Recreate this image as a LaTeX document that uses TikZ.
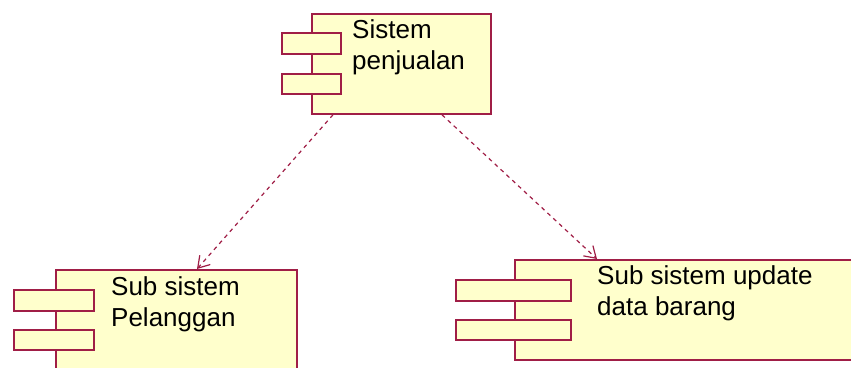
\documentclass[tikz,border=0pt]{standalone}
\usepackage{fontspec}
\setmainfont{Liberation Sans}
\usetikzlibrary{arrows.meta}
\definecolor{umlline}{RGB}{160,30,70}
\definecolor{umlfill}{RGB}{255,255,204}
\tikzset{
  compbody/.style={draw=umlline, fill=umlfill, line width=1.8pt, rectangle, inner sep=0pt, anchor=north west},
  compport/.style={draw=umlline, fill=umlfill, line width=1.8pt, rectangle, inner sep=0pt, anchor=north west},
  complabel/.style={anchor=north west, inner sep=0pt, align=left, font=\fontsize{26}{31.5}\selectfont, text=black},
  dep/.style={draw=umlline, line width=1.2pt, dash pattern=on 4pt off 4pt, -{Straight Barb[length=11pt,width=14pt,line width=1.2pt]}}
}
\begin{document}
\begin{tikzpicture}[x=1pt,y=-1pt]
\clip (0,0) rectangle (851,367);
\fill[white] (0,0) rectangle (851,367);
% top component
\node[compbody, minimum width=179pt, minimum height=100pt] (top) at (311,13) {};
\node[compport, minimum width=59pt, minimum height=21pt] (topp1) at (281,32) {};
\node[compport, minimum width=59pt, minimum height=20pt] (topp2) at (281,73) {};
\node[complabel] (toplabel) at (352,19) {Sistem\\penjualan};
% bottom left component
\node[compbody, minimum width=241pt, minimum height=140pt] (pel) at (55,269) {};
\node[compport, minimum width=80pt, minimum height=21pt] (pelp1) at (13,289) {};
\node[compport, minimum width=80pt, minimum height=20pt] (pelp2) at (13,329) {};
\node[complabel] (pellabel) at (111,276) {Sub sistem\\Pelanggan};
% bottom right component
\node[compbody, minimum width=400pt, minimum height=100pt] (upd) at (514,259) {};
\node[compport, minimum width=115pt, minimum height=21pt] (updp1) at (455,279) {};
\node[compport, minimum width=115pt, minimum height=20pt] (updp2) at (455,319) {};
\node[complabel] (updlabel) at (597,265) {Sub sistem update\\data barang};
% dependencies
\draw[dep] ([xshift=22pt]top.south west) -- ([xshift=142pt]pel.north west);
\draw[dep] ([xshift=131pt]top.south west) -- ([xshift=83pt]upd.north west);
\end{tikzpicture}
\end{document}
